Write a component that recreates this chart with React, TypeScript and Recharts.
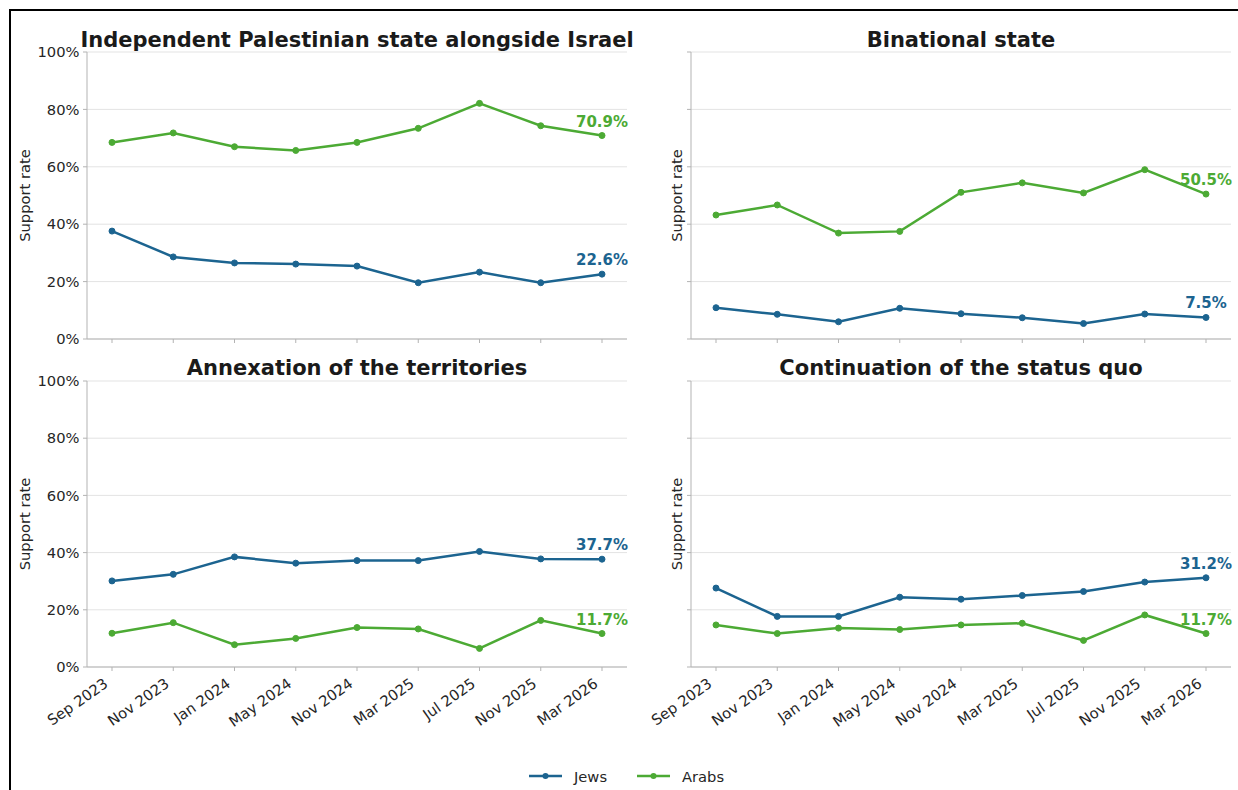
import React from 'react';
import { LineChart, Line, XAxis, YAxis, CartesianGrid, LabelList } from 'recharts';

const categories = ['Sep 2023', 'Nov 2023', 'Jan 2024', 'May 2024', 'Nov 2024', 'Mar 2025', 'Jul 2025', 'Nov 2025', 'Mar 2026'];
const seriesNames = ['Jews', 'Arabs'];
const yTicks = [0, 20, 40, 60, 80, 100];

const indepJews = [37.6, 28.6, 26.5, 26.1, 25.4, 19.6, 23.3, 19.6, 22.6];
const indepArabs = [68.5, 71.8, 67.0, 65.7, 68.5, 73.4, 82.1, 74.3, 70.9];
const binatJews = [10.9, 8.6, 6.0, 10.7, 8.8, 7.4, 5.4, 8.7, 7.5];
const binatArabs = [43.2, 46.7, 36.9, 37.5, 51.1, 54.4, 50.9, 59.0, 50.5];
const annexJews = [30.1, 32.4, 38.5, 36.3, 37.2, 37.2, 40.4, 37.8, 37.7];
const annexArabs = [11.8, 15.5, 7.8, 10.0, 13.8, 13.3, 6.5, 16.3, 11.7];
const statusJews = [27.6, 17.7, 17.7, 24.4, 23.7, 25.0, 26.4, 29.7, 31.2];
const statusArabs = [14.7, 11.7, 13.6, 13.1, 14.7, 15.3, 9.3, 18.2, 11.7];

const titles = [
  'Independent Palestinian state alongside Israel',
  'Binational state',
  'Annexation of the territories',
  'Continuation of the status quo',
];

const BLUE = '#1c6490';
const GREEN = '#4caa34';
const FONT = '"DejaVu Sans", sans-serif';
const AXIS = '#b3b3b3';
const TEXT = '#262626';

const build = (jews: number[], arabs: number[]) =>
  categories.map((c, i) => ({ cat: c, Jews: jews[i], Arabs: arabs[i] }));

const lastLabel = (color: string) => (props: any) => {
  const { x, y, index, value } = props;
  if (index !== categories.length - 1) return null;
  return (
    <text x={x} y={y - 9} textAnchor="middle" fill={color} fontWeight="bold" fontSize={15} fontFamily={FONT}>
      {Number(value).toFixed(1)}%
    </text>
  );
};

const XTick = (props: any) => {
  const { x, y, payload } = props;
  return (
    <text
      transform={`translate(${x - 3},${y + 13}) rotate(-35)`}
      textAnchor="end"
      fontSize={14.7}
      fontFamily={FONT}
      fill={TEXT}
    >
      {payload.value}
    </text>
  );
};

const Empty = () => <g />;

type PanelProps = {
  left: number;
  top: number;
  width: number;
  height: number;
  margin: { top: number; right: number; bottom: number; left: number };
  yWidth: number;
  xHeight: number;
  labelOffset: number;
  showY: boolean;
  showX: boolean;
  jews: number[];
  arabs: number[];
};

const Panel = (p: PanelProps) => (
  <div style={{ position: 'absolute', left: p.left, top: p.top }}>
    <LineChart width={p.width} height={p.height} data={build(p.jews, p.arabs)} margin={p.margin}>
      <CartesianGrid vertical={false} stroke="#e3e3e3" strokeWidth={1} />
      <XAxis
        dataKey="cat"
        height={p.xHeight}
        padding={{ left: 25, right: 25 }}
        stroke={AXIS}
        tickSize={4}
        tickMargin={2}
        tick={p.showX ? <XTick /> : <Empty />}
        interval={0}
      />
      <YAxis
        domain={[0, 100]}
        ticks={yTicks}
        width={p.yWidth}
        stroke={AXIS}
        tickSize={4}
        tickMargin={3.5}
        tick={p.showY ? { fontSize: 14.7, fontFamily: FONT, fill: TEXT } : <Empty />}
        tickFormatter={(v: number) => `${v}%`}
        label={{
          value: 'Support rate',
          angle: -90,
          position: 'insideLeft',
          offset: p.labelOffset,
          style: { textAnchor: 'middle', fontSize: 14.7, fontFamily: FONT, fill: TEXT },
        }}
      />
      <Line
        dataKey="Jews"
        stroke={BLUE}
        strokeWidth={2.5}
        dot={{ r: 3, fill: BLUE, stroke: BLUE, strokeWidth: 1 }}
        isAnimationActive={false}
      >
        <LabelList dataKey="Jews" content={lastLabel(BLUE)} />
      </Line>
      <Line
        dataKey="Arabs"
        stroke={GREEN}
        strokeWidth={2.5}
        dot={{ r: 3, fill: GREEN, stroke: GREEN, strokeWidth: 1 }}
        isAnimationActive={false}
      >
        <LabelList dataKey="Arabs" content={lastLabel(GREEN)} />
      </Line>
    </LineChart>
  </div>
);

export default function App() {
  const topMargin = { top: 52, bottom: 31 };
  const botMargin = { top: 51, bottom: 43 };
  return (
    <div
      style={{
        position: 'fixed',
        left: 0,
        top: 0,
        width: 1238,
        height: 790,
        overflow: 'hidden',
        background: '#fff',
        fontFamily: FONT,
      }}
    >
      <div
        style={{
          position: 'absolute',
          left: 9,
          top: 9,
          width: 1400,
          height: 1000,
          border: '2px solid #000',
        }}
      />
      <Panel left={0} top={0} width={640} height={400} margin={{ ...topMargin, left: 10, right: 13 }} yWidth={77} xHeight={30} labelOffset={14.5} showY={true} showX={false} jews={indepJews} arabs={indepArabs} />
      <Panel left={620} top={0} width={618} height={400} margin={{ ...topMargin, left: 10, right: 7 }} yWidth={61} xHeight={30} labelOffset={46.4} showY={false} showX={false} jews={binatJews} arabs={binatArabs} />
      <Panel left={0} top={330} width={640} height={460} margin={{ ...botMargin, left: 10, right: 13 }} yWidth={77} xHeight={80} labelOffset={14.5} showY={true} showX={true} jews={annexJews} arabs={annexArabs} />
      <Panel left={620} top={330} width={618} height={460} margin={{ ...botMargin, left: 10, right: 7 }} yWidth={61} xHeight={80} labelOffset={46.4} showY={false} showX={true} jews={statusJews} arabs={statusArabs} />
      <svg width={1238} height={790} style={{ position: 'absolute', left: 0, top: 0, pointerEvents: 'none' }}>
        <g fontFamily={FONT} fontWeight="bold" fontSize={21} fill="#1a1a1a" textAnchor="middle">
          <text x={357} y={47}>{titles[0]}</text>
          <text x={961} y={47}>{titles[1]}</text>
          <text x={357} y={374.5}>{titles[2]}</text>
          <text x={961} y={374.5}>{titles[3]}</text>
        </g>
        <g fontFamily={FONT} fontSize={14.7} fill={TEXT}>
          <line x1={529} x2={562} y1={776} y2={776} stroke={BLUE} strokeWidth={2.5} />
          <circle cx={545.5} cy={776} r={3} fill={BLUE} />
          <text x={574} y={781.5}>{seriesNames[0]}</text>
          <line x1={637} x2={670} y1={776} y2={776} stroke={GREEN} strokeWidth={2.5} />
          <circle cx={653.5} cy={776} r={3} fill={GREEN} />
          <text x={682} y={781.5}>{seriesNames[1]}</text>
        </g>
      </svg>
    </div>
  );
}
